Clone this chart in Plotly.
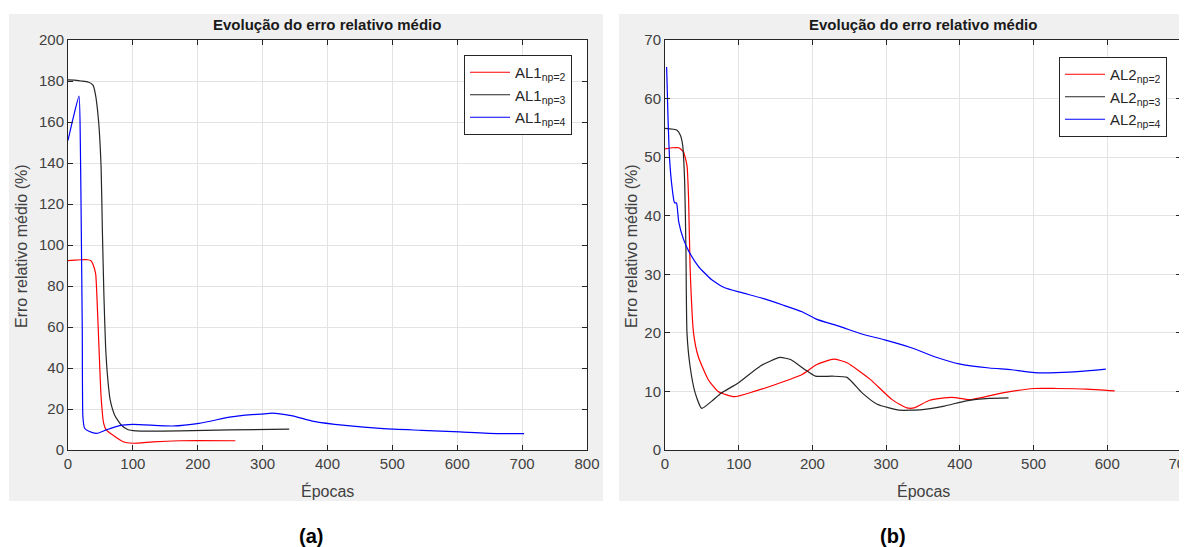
import plotly.graph_objects as go

# ---------- data: panel (a) ----------
a_np2_x = [0, 10, 20, 30, 35, 38, 42.6, 44.6, 47.7, 51, 55, 59, 69, 85, 100, 131, 172, 258]
a_np2_y = [92.4, 92.6, 92.8, 92.8, 92.4, 91, 86, 74.8, 50.4, 26, 13, 9.8, 7.3, 4.0, 3.3, 4.0, 4.5, 4.5]

a_np3_x = [0, 10, 20, 31, 38.5, 42, 47, 51, 53, 55.4, 58, 61.5, 65, 72, 82, 92, 105, 172, 249, 341]
a_np3_y = [180.5, 180.4, 180.0, 179.5, 178, 174, 161, 138, 107, 75, 50, 34, 24.4, 17, 12.2, 10, 9.3, 9.3,
           9.8, 10.2]

a_np4_x = [0, 8, 17, 19, 20.5, 22, 23, 25.6, 33, 44.6, 59, 79.5, 100, 161, 202, 249, 273, 302,
           314, 344, 379, 427, 486, 545, 604, 663, 703]
a_np4_y = [151, 162, 172.6, 150, 107, 58.5, 16, 10.6, 9.0, 8.1, 9.8, 11.9, 12.5, 11.7, 13, 16, 17,
           17.6, 18, 16.8, 14, 12, 10.4, 9.6, 8.8, 8.0, 8.0]

# ---------- data: panel (b) ----------
b_np2_x = [0, 10, 18.7, 25, 29.8, 32, 34, 38.7, 45, 58.7, 72, 94, 121, 148, 186, 206,
           229, 247, 278, 308, 328, 338, 359, 389, 414, 460, 501, 531, 572, 610]
b_np2_y = [51.4, 51.6, 51.6, 50.9, 48.6, 42.9, 31.4, 20, 16, 12, 10, 9.1, 10, 11.1, 12.9, 14.6,
           15.5, 14.9, 12.1, 8.6, 7.2, 7.2, 8.5, 9.0, 8.6, 9.8, 10.5, 10.5, 10.4, 10.1]

b_np3_x = [0, 16.4, 21, 24, 26.7, 28.4, 29.8, 34, 41, 49.8, 63, 76, 98.7, 130, 156, 171, 189, 204,
           227, 247, 267, 288, 318, 349, 379, 409, 440, 466]
b_np3_y = [54.9, 54.6, 53.7, 52, 45.7, 34.3, 20, 14.3, 9.7, 7.1, 8.3, 9.7, 11.4, 14.4,
           15.8, 15.4, 13.8, 12.6, 12.6, 12.4, 9.8, 7.8, 6.8, 6.9, 7.5, 8.4, 8.8, 8.9]

b_np4_x = [2.2, 4, 6.2, 9.8, 12.9, 15.5, 16.4, 18.7, 25, 32, 45, 63, 81, 103, 135, 161, 186, 206,
           237, 267, 298, 333, 369, 399, 440, 470, 501, 531, 572, 598]
b_np4_y = [65.4, 57.1, 49.7, 44.6, 42.2, 42.2, 41.7, 38.9, 36, 34, 31.4, 29.1, 27.7, 26.9, 25.8,
           24.7, 23.6, 22.3, 21.1, 19.8, 18.8, 17.5, 15.8, 14.7, 14.0, 13.7, 13.2, 13.2, 13.5, 13.8]

a_names = ["AL1<sub>np=2</sub>", "AL1<sub>np=3</sub>", "AL1<sub>np=4</sub>"]
b_names = ["AL2<sub>np=2</sub>", "AL2<sub>np=3</sub>", "AL2<sub>np=4</sub>"]
colors = ["#ff0000", "#262626", "#0000ff"]

a_xticks = [0, 100, 200, 300, 400, 500, 600, 700, 800]
a_yticks = [0, 20, 40, 60, 80, 100, 120, 140, 160, 180, 200]
b_xticks = [0, 100, 200, 300, 400, 500, 600, 700]
b_yticks = [0, 10, 20, 30, 40, 50, 60, 70]

W, H = 1187, 547
OFF = 8  # page body margin offset of the figure in the window
FONT = "Liberation Sans, Arial, Helvetica, sans-serif"


def px(x):
    return (x - OFF) / W


def py(y):
    return 1 - (y - OFF) / H


fig = go.Figure()

for xs, ys, name, c in zip([a_np2_x, a_np3_x, a_np4_x], [a_np2_y, a_np3_y, a_np4_y], a_names, colors):
    fig.add_trace(go.Scatter(x=xs, y=ys, mode="lines", name=name,
                             line=dict(color=c, width=1.2, shape="spline", smoothing=0.5),
                             xaxis="x", yaxis="y", legend="legend"))
for xs, ys, name, c in zip([b_np2_x, b_np3_x, b_np4_x], [b_np2_y, b_np3_y, b_np4_y], b_names, colors):
    fig.add_trace(go.Scatter(x=xs, y=ys, mode="lines", name=name,
                             line=dict(color=c, width=1.2, shape="spline", smoothing=0.5),
                             xaxis="x2", yaxis="y2", legend="legend2"))

axis_common = dict(
    showgrid=True, gridcolor="#e3e3e3", gridwidth=1,
    showline=True, linecolor="#262626", linewidth=1, mirror="ticks",
    ticks="inside", ticklen=5, tickcolor="#262626", tickwidth=1,
    zeroline=False, tickfont=dict(family=FONT, size=15, color="#404040"),
    fixedrange=True, automargin=False,
)

ydom = [py(450), py(40)]
fig.update_layout(
    width=W, height=H, autosize=False,
    margin=dict(l=0, r=0, t=0, b=0, pad=0, autoexpand=False),
    paper_bgcolor="white", plot_bgcolor="white",
    font=dict(family=FONT, color="#404040"),
    xaxis=dict(domain=[px(68), px(587)], range=[0, 800], tickvals=a_xticks, anchor="y", **axis_common),
    yaxis=dict(domain=ydom, range=[0, 200], tickvals=a_yticks, anchor="x", **axis_common),
    xaxis2=dict(domain=[px(665), px(1181)], range=[0, 700], tickvals=b_xticks, anchor="y2", **axis_common),
    yaxis2=dict(domain=ydom, range=[0, 70], tickvals=b_yticks, anchor="x2", **axis_common),
    legend=dict(x=px(572), y=py(55), xanchor="right", yanchor="top", bgcolor="white",
                bordercolor="#262626", borderwidth=1, font=dict(family=FONT, size=15, color="#262626"),
                tracegroupgap=0, itemwidth=40),
    legend2=dict(x=px(1167), y=py(57), xanchor="right", yanchor="top", bgcolor="white",
                 bordercolor="#262626", borderwidth=1, font=dict(family=FONT, size=15, color="#262626"),
                 tracegroupgap=0, itemwidth=40),
    showlegend=True,
)

# gray figure panels (frame around each plot area)
gray = "#f0f0f0"
for x0, x1, ax0, ax1 in [(9, 603, 68, 587), (619, 1200, 665, 1181)]:
    for rx0, rx1, ry0, ry1 in [(x0, x1, 14, 40), (x0, x1, 450, 501), (x0, ax0, 40, 450), (ax1, x1, 40, 450)]:
        fig.add_shape(type="rect", xref="paper", yref="paper", x0=px(rx0), x1=px(rx1), y0=py(ry1), y1=py(ry0),
                      fillcolor=gray, line=dict(width=0), layer="below")

# titles and labels
for cx, lab_x, ylab_x, tag in [(327, 311, 21, "(a)"), (923, 893, 631, "(b)")]:
    fig.add_annotation(x=px(cx), y=py(25), xref="paper", yref="paper", text="<b>Evolução do erro relativo médio</b>",
                       showarrow=False, font=dict(family=FONT, size=15, color="#1a1a1a"),
                       xanchor="center", yanchor="middle")
    fig.add_annotation(x=px(cx), y=py(491), xref="paper", yref="paper", text="Épocas",
                       showarrow=False, font=dict(family=FONT, size=16, color="#404040"),
                       xanchor="center", yanchor="middle")
    fig.add_annotation(x=px(ylab_x), y=py(246), xref="paper", yref="paper", text="Erro relativo médio (%)",
                       textangle=-90, showarrow=False, font=dict(family=FONT, size=16, color="#404040"),
                       xanchor="center", yanchor="middle")
    fig.add_annotation(x=px(lab_x), y=py(536), xref="paper", yref="paper", text=f"<b>{tag}</b>",
                       showarrow=False, font=dict(family=FONT, size=20, color="#000000"),
                       xanchor="center", yanchor="middle")

fig.write_html("out.html")
